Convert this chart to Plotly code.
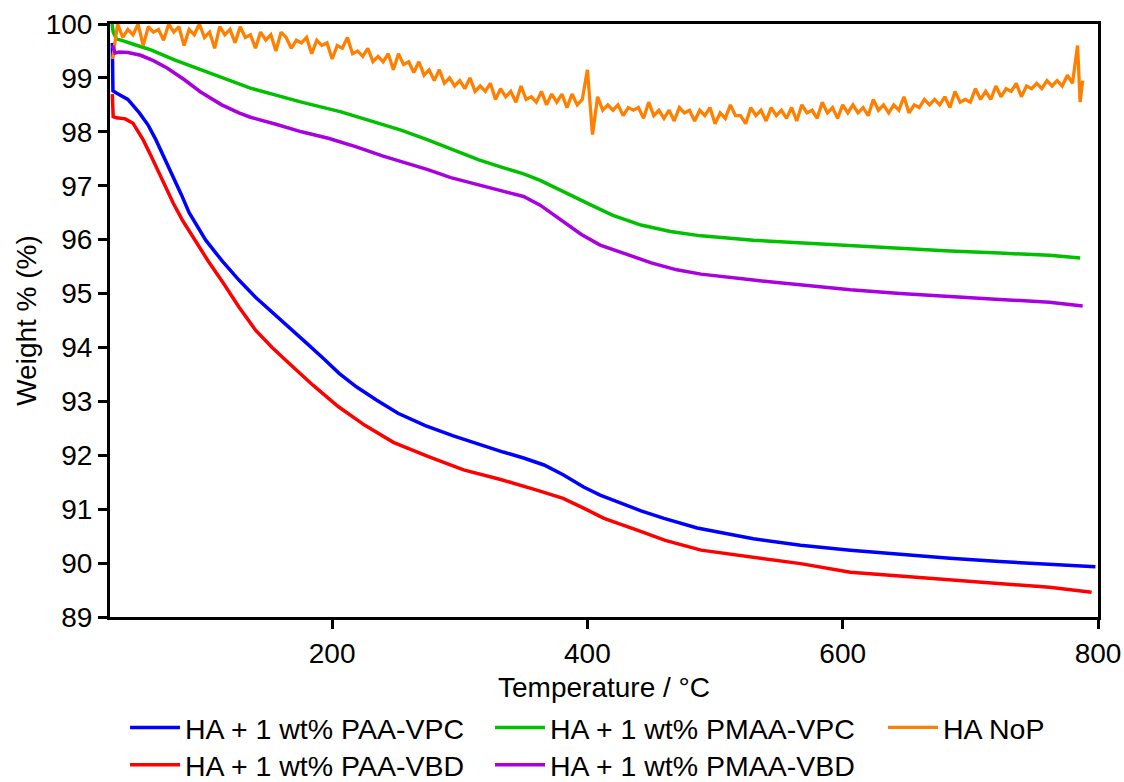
import plotly.graph_objects as go

# ---- data ----
paa_vpc_t = [27.8, 28.3, 31, 40, 49, 56, 62, 69, 75.5, 82, 88, 101, 114, 127, 140, 154, 167, 180, 193, 205.5,
             219, 235, 251.6, 273, 295, 315, 334, 350, 366, 381, 397, 410, 424, 442, 460, 486, 530, 567, 606,
             645, 684, 723, 762, 798]
paa_vpc_w = [99.65, 98.76, 98.72, 98.6, 98.35, 98.12, 97.85, 97.5, 97.16, 96.83, 96.5, 95.99, 95.6, 95.25, 94.93,
             94.64, 94.35, 94.08, 93.8, 93.52, 93.27, 93.02, 92.78, 92.55, 92.36, 92.2, 92.06, 91.95, 91.82, 91.64,
             91.41, 91.26, 91.13, 90.97, 90.83, 90.65, 90.45, 90.33, 90.24, 90.16, 90.09, 90.03, 89.98, 89.93]

paa_vbd_t = [27.8, 28.5, 31, 38, 44, 52, 58, 64.5, 70, 75.5, 83, 91, 103, 114.6, 127, 140, 153, 166, 185, 205,
             226, 248, 275, 303, 332, 361, 381, 397, 413, 439, 461, 489, 530, 567, 606, 645, 684, 723, 762, 795]
paa_vbd_w = [98.7, 98.28, 98.26, 98.24, 98.16, 97.85, 97.56, 97.24, 96.96, 96.68, 96.35, 96.05, 95.6, 95.2, 94.75,
             94.32, 94.0, 93.71, 93.3, 92.9, 92.55, 92.24, 91.98, 91.73, 91.55, 91.35, 91.2, 91.02, 90.83, 90.61,
             90.42, 90.24, 90.1, 89.99, 89.83, 89.76, 89.68, 89.62, 89.55, 89.46]

pmaa_vpc_t = [27.6, 28.5, 31, 34.6, 45, 58, 77, 97, 116, 136, 156, 176, 207, 230, 254, 275, 293, 315, 332, 350,
              363, 380, 403, 420, 442, 465, 489, 530, 567, 606, 645, 684, 723, 762, 786]
pmaa_vpc_w = [100.0, 99.85, 99.72, 99.7, 99.62, 99.52, 99.33, 99.15, 98.98, 98.81, 98.68, 98.55, 98.37, 98.2,
              98.03, 97.85, 97.68, 97.48, 97.35, 97.22, 97.1, 96.9, 96.64, 96.45, 96.27, 96.15, 96.07, 95.99,
              95.94, 95.88, 95.83, 95.79, 95.75, 95.71, 95.66]

pmaa_vbd_t = [28, 30, 33, 40, 50, 60, 71, 84, 97, 113.5, 127, 136, 156, 176, 197, 219, 240, 254, 275, 293, 315,
              332, 350, 363, 379, 395, 410, 430, 450, 470, 489, 530, 567, 606, 645, 684, 723, 762, 788]
pmaa_vbd_w = [99.6, 99.46, 99.48, 99.47, 99.42, 99.32, 99.18, 98.97, 98.74, 98.5, 98.35, 98.27, 98.14, 98.0,
              97.88, 97.72, 97.55, 97.45, 97.3, 97.15, 97.02, 96.92, 96.8, 96.64, 96.36, 96.1, 95.9, 95.73,
              95.57, 95.44, 95.36, 95.25, 95.16, 95.07, 95.0, 94.94, 94.89, 94.84, 94.77]

nop_t = [28, 32, 36, 40, 44, 48, 52, 56, 60, 64,
         68, 72, 76, 80, 84, 88, 92, 96, 100, 104,
         108, 112, 116, 120, 124, 128, 132, 136, 140, 144,
         148, 152, 156, 160, 164, 168, 172, 176, 180, 184,
         188, 192, 196, 200, 204, 208, 212, 216, 220, 224,
         228, 232, 236, 240, 244, 248, 252, 256, 260, 264,
         268, 272, 276, 280, 284, 288, 292, 296, 300, 304,
         308, 312, 316, 320, 324, 328, 332, 336, 340, 344,
         348, 352, 356, 360, 364, 368, 372, 376, 380, 384,
         388, 392, 396, 400, 404, 408, 412, 416, 420, 424,
         428, 432, 436, 440, 444, 448, 452, 456, 460, 464,
         468, 472, 476, 480, 484, 488, 492, 496, 500, 504,
         508, 512, 516, 520, 524, 528, 532, 536, 540, 544,
         548, 552, 556, 560, 564, 568, 572, 576, 580, 584,
         588, 592, 596, 600, 604, 608, 612, 616, 620, 624,
         628, 632, 636, 640, 644, 648, 652, 656, 660, 664,
         668, 672, 676, 680, 684, 688, 692, 696, 700, 704,
         708, 712, 716, 720, 724, 728, 732, 736, 740, 744,
         748, 752, 756, 760, 764, 768, 772, 776, 780, 784,
         786, 788]
nop_w = [99.35, 100.0, 99.75, 99.9, 99.8, 100.0, 99.6, 99.95, 99.85, 99.9,
         99.7, 100.0, 99.85, 99.95, 99.6, 99.9, 99.8, 100.0, 99.75, 99.85,
         99.55, 99.95, 99.8, 99.9, 99.65, 99.95, 99.75, 99.8, 99.55, 99.85,
         99.7, 99.8, 99.5, 99.85, 99.75, 99.55, 99.7, 99.65, 99.75, 99.45,
         99.7, 99.6, 99.65, 99.35, 99.6, 99.55, 99.75, 99.45, 99.5, 99.4,
         99.55, 99.3, 99.4, 99.3, 99.45, 99.15, 99.45, 99.25, 99.3, 99.1,
         99.3, 99.05, 99.15, 98.95, 99.15, 98.9, 99.0, 98.85, 98.95, 98.8,
         99.0, 98.75, 98.85, 98.75, 98.9, 98.6, 98.8, 98.65, 98.75, 98.55,
         98.85, 98.6, 98.65, 98.55, 98.75, 98.5, 98.7, 98.55, 98.7, 98.45,
         98.7, 98.5, 98.6, 99.15, 97.95, 98.65, 98.4, 98.5, 98.4, 98.5,
         98.3, 98.45, 98.4, 98.45, 98.25, 98.55, 98.3, 98.4, 98.25, 98.4,
         98.2, 98.45, 98.35, 98.4, 98.2, 98.4, 98.3, 98.45, 98.15, 98.35,
         98.25, 98.5, 98.3, 98.3, 98.15, 98.45, 98.3, 98.4, 98.2, 98.45,
         98.3, 98.4, 98.25, 98.45, 98.2, 98.5, 98.35, 98.4, 98.25, 98.55,
         98.35, 98.45, 98.25, 98.5, 98.35, 98.5, 98.35, 98.45, 98.3, 98.6,
         98.4, 98.5, 98.35, 98.5, 98.4, 98.65, 98.35, 98.5, 98.45, 98.6,
         98.5, 98.6, 98.5, 98.65, 98.45, 98.75, 98.55, 98.6, 98.55, 98.8,
         98.6, 98.75, 98.6, 98.85, 98.65, 98.8, 98.75, 98.9, 98.65, 98.85,
         98.8, 98.9, 98.8, 98.95, 98.85, 98.95, 98.85, 99.05, 98.9, 99.6,
         98.55, 98.95]

series_names = ["HA + 1 wt% PAA-VPC", "HA + 1 wt% PMAA-VPC", "HA NoP",
                "HA + 1 wt% PAA-VBD", "HA + 1 wt% PMAA-VBD"]
series_colors = ["#0000FF", "#00C000", "#FF8000", "#FF0000", "#A800E0"]
series_t = [paa_vpc_t, pmaa_vpc_t, nop_t, paa_vbd_t, pmaa_vbd_t]
series_w = [paa_vpc_w, pmaa_vpc_w, nop_w, paa_vbd_w, pmaa_vbd_w]
series_width = [3.5, 3.5, 3.3, 3.5, 3.5]

x_ticks = [200, 400, 600, 800]
y_ticks = list(range(89, 101))

FONT = "Arial, Liberation Sans, sans-serif"

# legend slot positions (paper coords): column x, row y
legend_ids = ["legend", "legend2", "legend3", "legend4", "legend5"]
legend_x = [0.0152, 0.3846, 0.7824, 0.0152, 0.3846]
legend_y = [-0.187, -0.25, -0.187, -0.25, -0.25]
legend_y = [-0.187, -0.187, -0.187, -0.25, -0.25]

fig = go.Figure()
for name, col, t, w, lw, lid in zip(series_names, series_colors, series_t, series_w,
                                    series_width, legend_ids):
    fig.add_trace(go.Scatter(x=t, y=w, mode="lines", name=name, legend=lid,
                             line=dict(color=col, width=lw)))

legends = {}
for lid, lx, ly in zip(legend_ids, legend_x, legend_y):
    legends[lid] = dict(orientation="h", x=lx, xanchor="left", y=ly, yanchor="middle",
                        font=dict(family=FONT, size=28.5, color="black"), itemwidth=50,
                        bgcolor="rgba(0,0,0,0)")

fig.update_layout(
    width=1124, height=782,
    margin=dict(l=110, r=26, t=24, b=165, autoexpand=False),
    paper_bgcolor="white", plot_bgcolor="white",
    font=dict(family=FONT, size=28, color="black"),
    showlegend=True,
    **legends,
)
fig.update_xaxes(range=[26, 800], tickvals=x_ticks, ticks="outside", ticklen=9, tickwidth=3,
                 tickcolor="black", showline=True, linecolor="black", linewidth=3, mirror=True,
                 showgrid=False, zeroline=False, automargin=False,
                 title=dict(text="Temperature / °C", font=dict(size=28), standoff=10))
fig.update_yaxes(range=[89, 100], tickvals=y_ticks, ticks="outside", ticklen=9, tickwidth=3,
                 tickcolor="black", showline=True, linecolor="black", linewidth=3, mirror=True,
                 showgrid=False, zeroline=False, automargin=False,
                 title=dict(text="Weight % (%)", font=dict(size=28), standoff=1))

fig.write_html("out.html")
